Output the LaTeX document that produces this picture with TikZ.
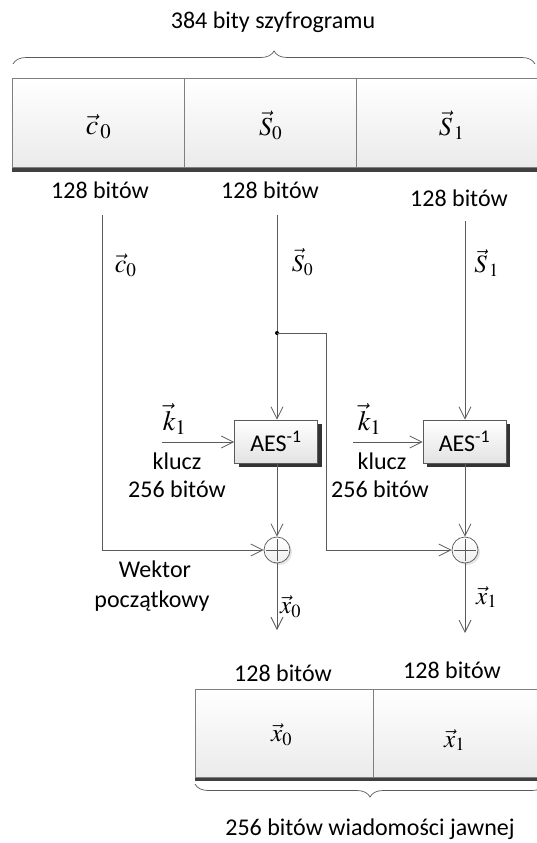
\documentclass[tikz,border=0pt]{standalone}
\usepackage{mathptmx}
\usepackage[no-math]{fontspec}
\usepackage{graphicx}
\setmainfont{Carlito}
\usetikzlibrary{arrows.meta,decorations.pathreplacing,shadows}
\definecolor{ln}{HTML}{5A5A5A}
\definecolor{bd}{HTML}{7F7F7F}
\newcommand{\scm}[2]{\scalebox{#1}{$#2$}}
\begin{document}
\begin{tikzpicture}[x=1pt,y=-1pt,
  conn/.style={draw=ln, line width=0.9pt, -{Straight Barb[length=12pt,width=12pt,line width=0.8pt]}},
  cell/.style={draw=bd, line width=0.7pt, top color=white, bottom color=gray!16, minimum height=89pt, inner sep=0pt},
  aes/.style={draw=ln, line width=0.8pt, top color=white, bottom color=gray!22, minimum width=83pt, minimum height=43pt, inner sep=0pt,
    font=\fontsize{24}{24}\selectfont, drop shadow={shadow xshift=4pt, shadow yshift=-4pt, fill=black!80, opacity=1}},
  xorn/.style={circle, draw=ln, line width=0.7pt, minimum size=26pt, inner sep=0pt, top color=white, bottom color=gray!12,
    drop shadow={shadow xshift=2pt, shadow yshift=-2pt, fill=gray!30, opacity=0.7},
    path picture={\draw[ln, line width=0.7pt] (path picture bounding box.center) ++(-11pt,0) -- ++(22pt,0)
      (path picture bounding box.center) ++(0,-11pt) -- ++(0,22pt);}},
  txt/.style={font=\fontsize{24}{28}\selectfont, inner sep=0pt},
  mth/.style={inner sep=0pt},
  brc/.style={draw=ln, line width=0.7pt, decorate, decoration={brace, amplitude=13pt}}
]
\clip (0,0) rectangle (537,843);
\fill[white] (0,0) rectangle (537,843);

% top title and brace
\node[txt] (title) at (273,22) {384 bity szyfrogramu};
\draw[brc] (13,64) -- (535,64);

% top bar
\fill[black!75] (12,168) rectangle (545,171.5);
\node[cell, minimum width=172pt] (cc0) at (98,123) {};
\node[cell, minimum width=172pt] (cs0) at (270,123) {};
\node[cell, minimum width=189pt] (cs1) at (450.5,123) {};
\node[mth] (lc0) at (99,127) {\scm{2.8}{\vec{c}_{\,0}}};
\node[mth] (ls0) at (271,125) {\scm{2.6}{\vec{S}_0}};
\node[mth] (ls1) at (452,125) {\scm{2.6}{\vec{S}_{\,1}}};

\node[txt] (b1) at (100,190) {128 bitów};
\node[txt] (b2) at (270,190) {128 bitów};
\node[txt] (b3) at (459,198) {128 bitów};

% coordinates
\coordinate (c0top) at (102,215);
\coordinate (s0top) at (277,215);
\coordinate (jn) at (277,333);
\coordinate (jr) at (326,333);
\coordinate (s1top) at (465,221);
\coordinate (k1a) at (162,442);
\coordinate (k1b) at (353,442);
\coordinate (out1) at (277,630);
\coordinate (out2) at (465,633);

% blocks
\node[aes] (aes1) at (276,441.5) {AES\textsuperscript{-1}};
\node[aes] (aes2) at (464.5,441.5) {AES\textsuperscript{-1}};
\node[xorn] (xor1) at (277,550) {};
\node[xorn] (xor2) at (465,550) {};

% connectors
\draw[conn] (c0top) |- (xor1);
\draw[conn] (s0top) -- (s0top |- aes1.north);
\fill[black] (jn) circle (2pt);
\draw[conn] (jn) -- (jr) |- (xor2);
\draw[conn] (s1top) -- (s1top |- aes2.north);
\draw[conn] (k1a) -- (k1a -| aes1.west);
\draw[conn] (k1b) -- (k1b -| aes2.west);
\draw[conn] (aes1.south -| xor1) -- (xor1);
\draw[conn] (aes2.south -| xor2) -- (xor2);
\draw[conn] (xor1) -- (out1);
\draw[conn] (xor2) -- (out2);

% labels
\node[mth] (lc0m) at (126,265) {\scm{2.6}{\vec{c}_0}};
\node[mth] (ls0m) at (303,262) {\scm{2.4}{\vec{S}_0}};
\node[mth] (ls1m) at (487,263) {\scm{2.5}{\vec{S}_{\,1}}};
\node[mth] (lk1) at (175,419) {\scm{2.8}{\vec{k}_1}};
\node[mth] (lk2) at (370,419) {\scm{2.8}{\vec{k}_1}};
\node[txt] (kl1) at (177,461) {klucz};
\node[txt] (kb1) at (177,489) {256 bitów};
\node[txt] (kl2) at (382,461) {klucz};
\node[txt] (kb2) at (380,489) {256 bitów};
\node[txt] (wek) at (155,569) {Wektor};
\node[txt] (pocz) at (152,601) {początkowy};
\node[mth] (lx0) at (291,607) {\scm{2.5}{\vec{x}_0}};
\node[mth] (lx1) at (487,597) {\scm{2.5}{\vec{x}_1}};

% bottom bar
\node[txt] (b4) at (283,673) {128 bitów};
\node[txt] (b5) at (452,670) {128 bitów};
\fill[black!75] (195,777) rectangle (545,780.5);
\node[cell, minimum width=178pt, minimum height=88pt] (cx0) at (284,733) {};
\node[cell, minimum width=172pt, minimum height=88pt] (cx1) at (459,733) {};
\node[mth] (lx0b) at (282,735) {\scm{2.5}{\vec{x}_0}};
\node[mth] (lx1b) at (455,740) {\scm{2.5}{\vec{x}_1}};
\draw[brc] (545,784) -- (195,784);
\node[txt] (foot) at (370,829) {256 bitów wiadomości jawnej};
\end{tikzpicture}
\end{document}
